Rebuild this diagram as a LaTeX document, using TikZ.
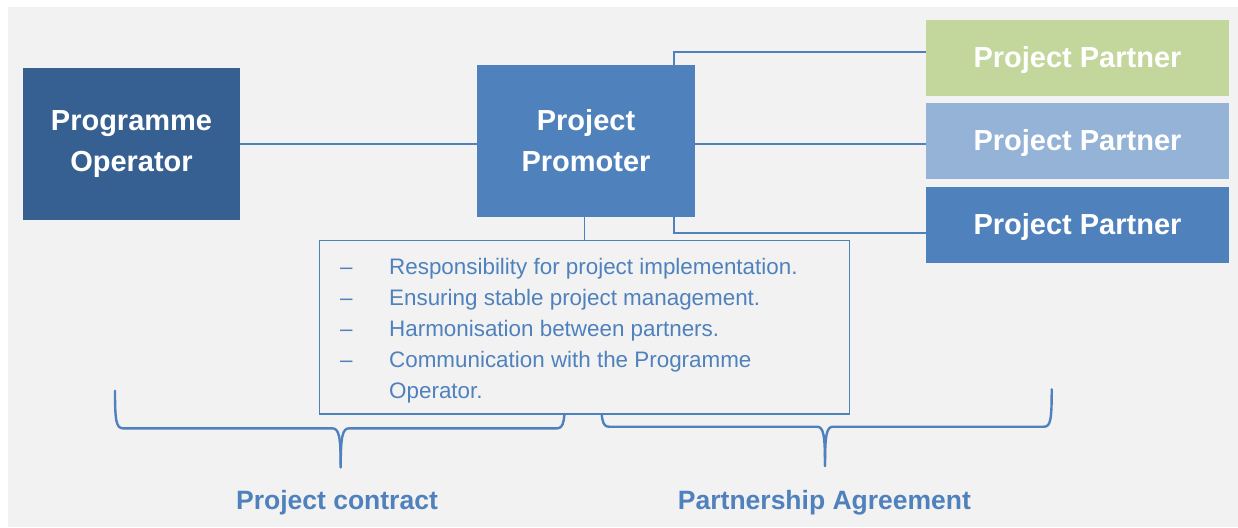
\documentclass[tikz,border=0pt]{standalone}
\usepackage{fontspec}
\setmainfont{Liberation Sans}
\definecolor{bgc}{HTML}{F2F2F2}
\definecolor{poc}{HTML}{376092}
\definecolor{bluec}{HTML}{4F81BD}
\definecolor{greenc}{HTML}{C3D69B}
\definecolor{lbluec}{HTML}{95B3D7}
\newcommand{\ditem}{\llap{–\hspace{36.5pt}}}
\tikzset{
  box/.style={rectangle, inner sep=0pt, text=white, align=center,
    font=\fontsize{29pt}{40.5pt}\selectfont\bfseries},
  partner/.style={box, minimum width=303pt, minimum height=75.7pt,
    text height=21.2pt, text depth=2.4pt},
  conn/.style={draw=bluec, line width=1.8pt},
  thinconn/.style={draw=bluec, line width=1.1pt},
  brace/.style={draw=bluec, line width=2.4pt, line cap=round},
  descbox/.style={rectangle, draw=bluec, fill=bgc, line width=1.4pt, inner sep=0pt,
    minimum width=530pt, minimum height=173.3pt},
  desctext/.style={inner sep=0pt, align=left, text=bluec,
    font=\fontsize{22.4pt}{31pt}\selectfont},
  lbl/.style={inner sep=0pt, text=bluec, font=\fontsize{26.5pt}{30pt}\selectfont\bfseries}
}
\begin{document}
\begin{tikzpicture}[x=1pt,y=-1pt]
\useasboundingbox (0,0) rectangle (1238,527);
\fill[bgc] (8,6.7) rectangle (1238,527);

% braces
\draw[brace] (115,390.7) .. controls (115,420) and (116,428.3) .. (123,428.3) -- (332,428.3)
  .. controls (339,428.3) and (340.7,436) .. (340.7,467.3);
\draw[brace] (340.7,467.3) .. controls (340.7,436) and (342.4,428.3) .. (349.4,428.3) -- (557,428.3)
  .. controls (564,428.3) and (565,420) .. (565,390.7);
\draw[brace] (601,390) .. controls (601,419) and (602,426.7) .. (609,426.7) -- (817,426.7)
  .. controls (823.5,426.7) and (825,435) .. (825,466);
\draw[brace] (825,466) .. controls (825,435) and (826.5,426.7) .. (833,426.7) -- (1044,426.7)
  .. controls (1050.7,426.7) and (1051.7,419) .. (1051.7,389.3);

% description box
\node[descbox] (desc) at (584.3,327.35) {};
\node[desctext, anchor=north west] (desctxt) at (389,258)
  {\ditem Responsibility for project implementation.\\
   \ditem Ensuring stable project management.\\
   \ditem Harmonisation between partners.\\
   \ditem Communication with the Programme\\
   Operator.};

% main boxes
\node[box, fill=poc, minimum width=217pt, minimum height=151.7pt] (po) at (131.5,143.85) {Programme\\Operator};
\node[box, fill=bluec, minimum width=218pt, minimum height=151.7pt] (pp) at (586,140.85) {Project\\Promoter};
\node[partner, fill=greenc] (p1) at (1077.5,57.85) {Project Partner};
\node[partner, fill=lbluec] (p2) at (1077.5,140.85) {Project Partner};
\node[partner, fill=bluec] (p3) at (1077.5,224.85) {Project Partner};

% connectors
\coordinate (mid) at (0,143.7);
\coordinate (jt) at (674,51.7);
\coordinate (jb) at (674,233.3);
\coordinate (dx) at (584.3,0);
\draw[conn] (po.east |- mid) -- (pp.west |- mid);
\draw[conn] (pp.east |- mid) -- (p2.west |- mid);
\draw[conn] (pp.north -| jt) -- (jt) -- (jt -| p1.west);
\draw[conn] (pp.south -| jb) -- (jb) -- (jb -| p3.west);
\draw[thinconn] (pp.south -| dx) -- (desc.north -| dx);

% labels
\node[lbl, anchor=base] (lc) at (337,509.5) {Project contract};
\node[lbl, anchor=base] (la) at (824.5,509.3) {Partnership Agreement};
\end{tikzpicture}
\end{document}
